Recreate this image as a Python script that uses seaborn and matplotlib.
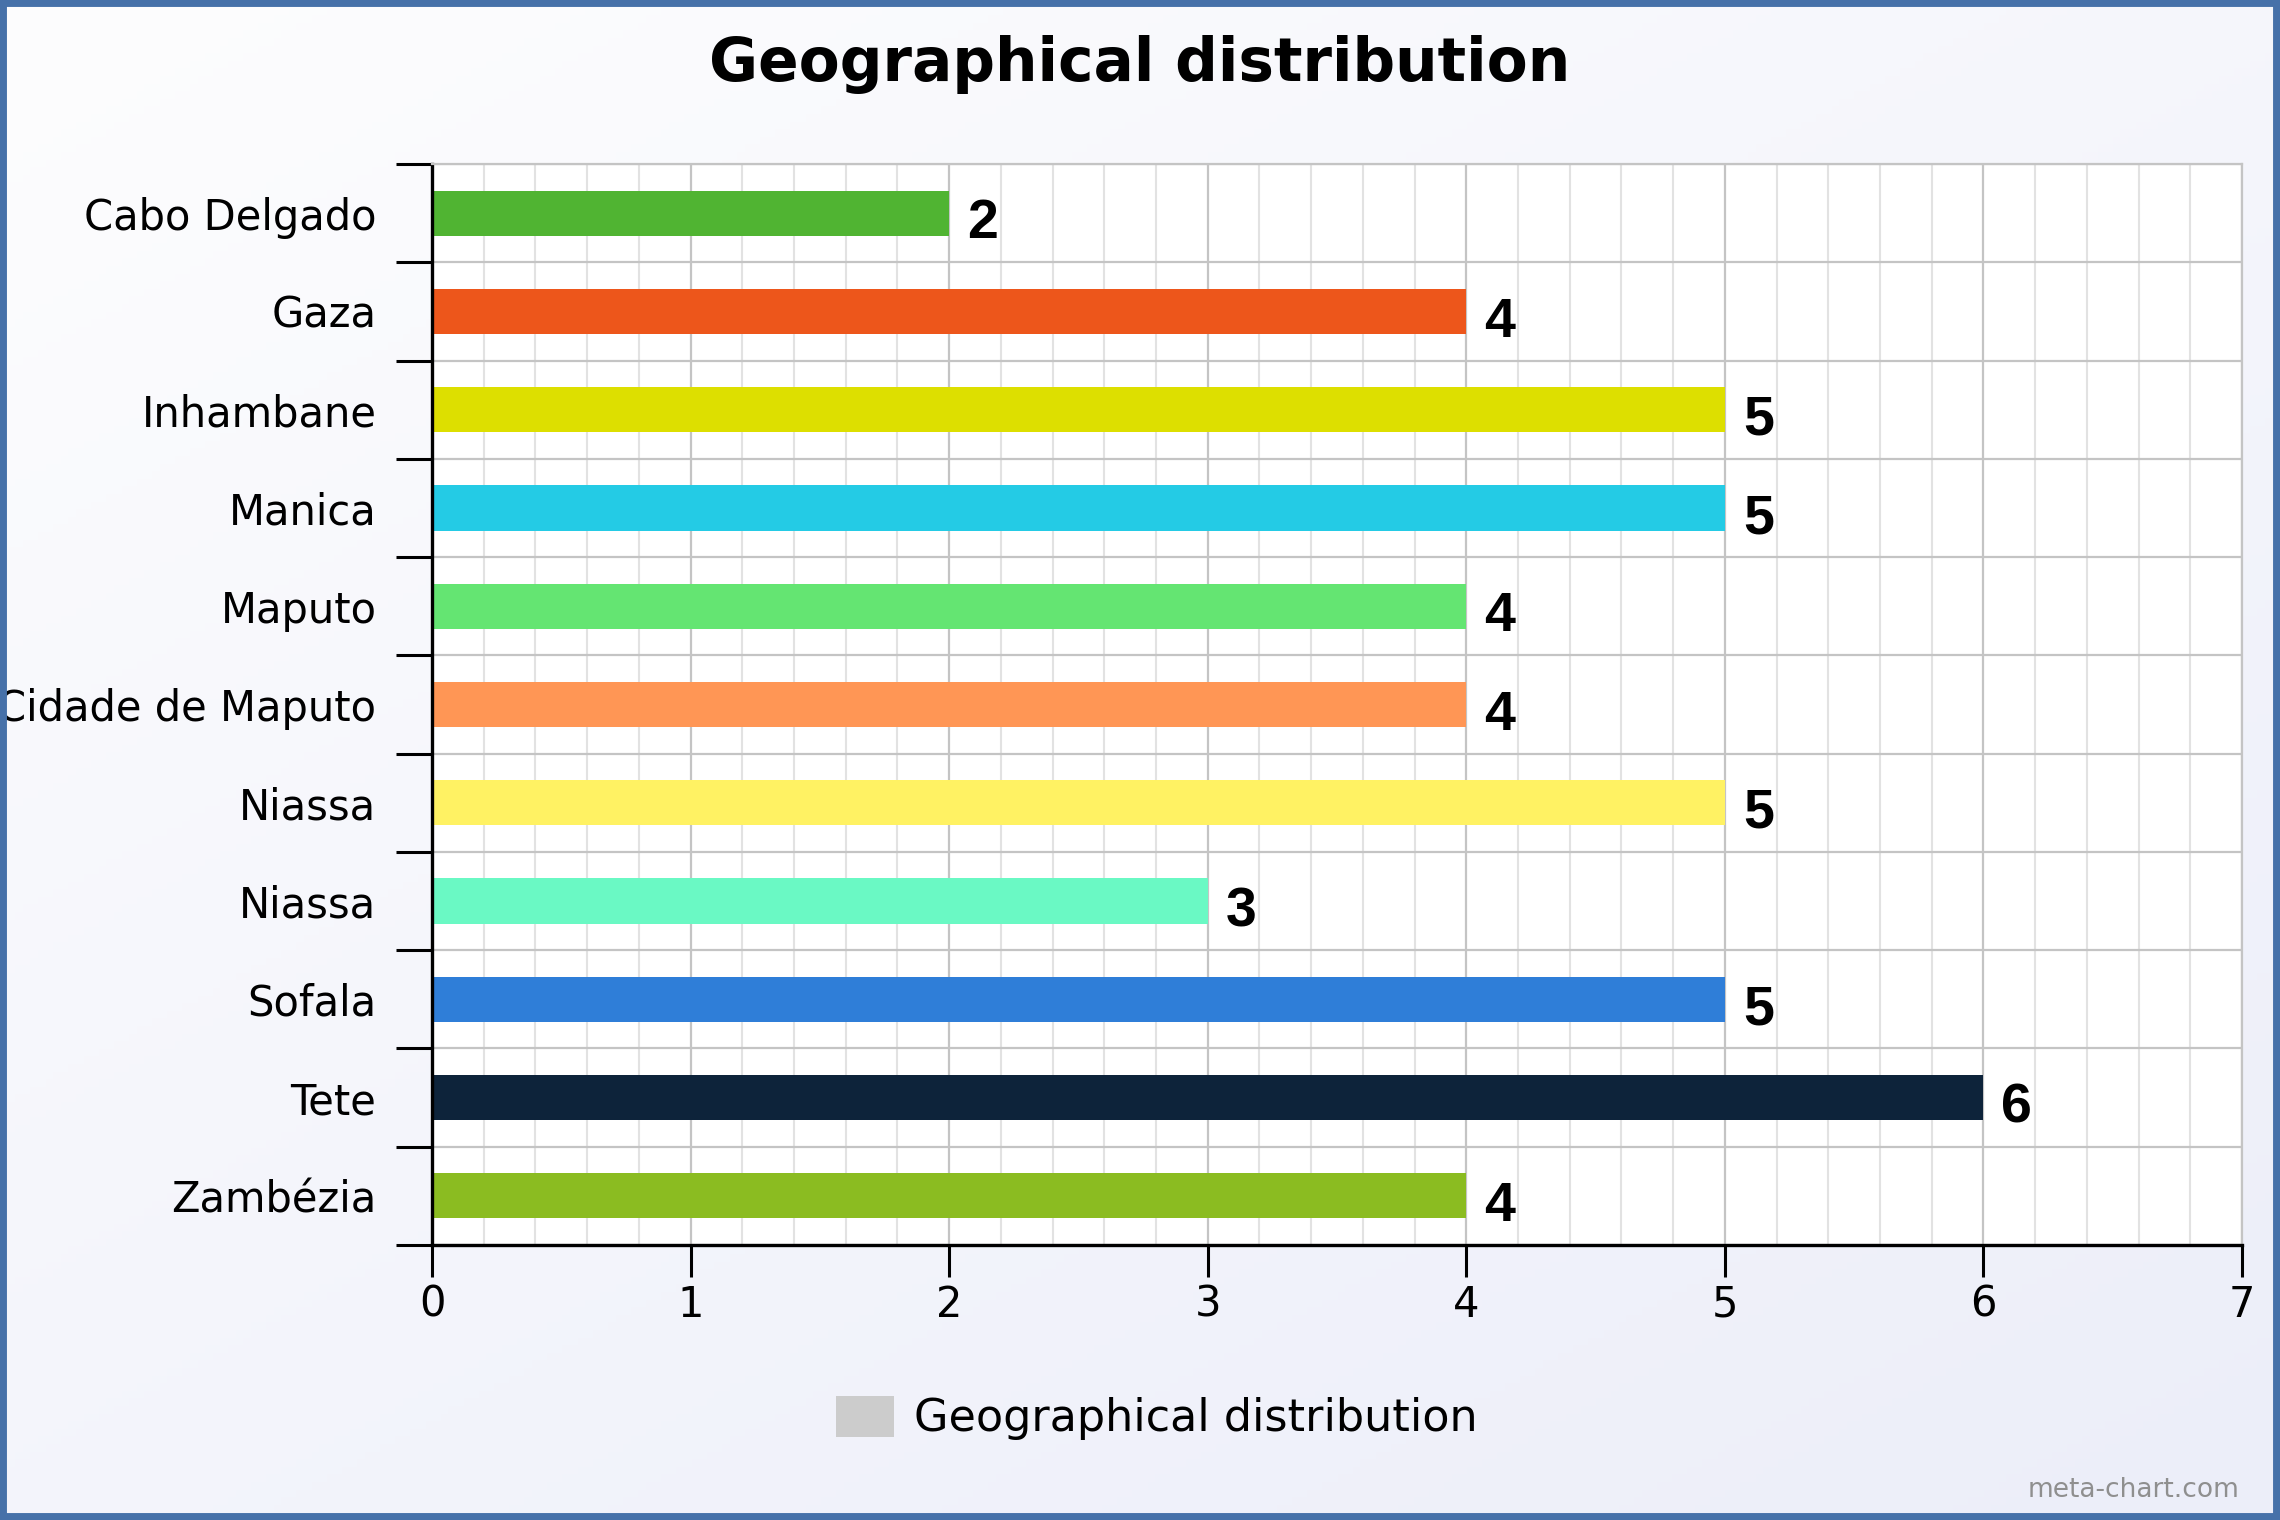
import numpy as np
import pandas as pd
import matplotlib
matplotlib.use("Agg")
import matplotlib.pyplot as plt
from matplotlib.patches import Patch, Rectangle
from matplotlib.ticker import MultipleLocator, FixedLocator
import seaborn as sns

# ---- data ----
regions = ["Cabo Delgado", "Gaza", "Inhambane", "Manica", "Maputo",
           "Cidade de Maputo", "Niassa", "Niassa", "Sofala", "Tete", "Zambézia"]
counts = [2, 4, 5, 5, 4, 4, 5, 3, 5, 6, 4]
bar_colors = ["#50B432", "#ED561B", "#DDDF00", "#24CBE5", "#64E572",
              "#FF9655", "#FFF263", "#6AF9C4", "#2F7ED8", "#0D233A", "#8BBC21"]
x_ticks = [0, 1, 2, 3, 4, 5, 6, 7]
title = "Geographical distribution"
legend_label = "Geographical distribution"

sns.set_style("white")
plt.rcParams["font.family"] = ["DejaVu Sans"]

slots = [f"r{i}" for i in range(len(regions))]
df = pd.DataFrame({"slot": slots, "value": counts, "region": regions})
palette = dict(zip(slots, bar_colors))

W, H = 2280, 1520
fig = plt.figure(figsize=(W / 100, H / 100), dpi=100)

# background gradient
bg = fig.add_axes([0, 0, 1, 1], zorder=-10)
yy, xx = np.mgrid[0:1:200j, 0:1:300j]
t = (0.45 * xx + 0.55 * yy)
c0 = np.array([0xfd, 0xfd, 0xfe]) / 255
c1 = np.array([0xec, 0xee, 0xf9]) / 255
img = c0[None, None, :] * (1 - t[..., None]) + c1[None, None, :] * t[..., None]
bg.imshow(img, aspect="auto", extent=[0, 1, 0, 1], origin="upper")
bg.set_axis_off()

left, right = 432 / W, 2242 / W
top, bottom = 1 - 164 / H, 1 - 1245 / H
ax = fig.add_axes([left, bottom, right - left, top - bottom])
ax.set_facecolor("white")

sns.barplot(data=df, x="value", y="slot", hue="slot", order=slots,
            hue_order=slots, palette=palette, orient="h", width=0.46,
            errorbar=None, legend=False, linewidth=0, saturation=1, ax=ax)

ax.set_xlim(0, 7)
ax.set_ylim(len(regions) - 0.5, -0.5)
ax.set_xlabel("")
ax.set_ylabel("")

# ticks
ax.xaxis.set_major_locator(FixedLocator(x_ticks))
ax.set_xticklabels([str(v) for v in x_ticks])
ax.xaxis.set_minor_locator(MultipleLocator(0.2))
ax.set_yticks(range(len(regions)))
ax.set_yticklabels(regions)
ax.yaxis.set_minor_locator(FixedLocator(np.arange(-0.5, len(regions), 1.0)))

ax.tick_params(axis="x", which="both", bottom=True, top=False)
ax.tick_params(axis="y", which="both", left=True, right=False)
ax.tick_params(axis="x", which="major", length=23, width=2.2, color="black",
               direction="out", pad=5, labelsize=30, labelcolor="black")
ax.tick_params(axis="x", which="minor", length=0)
ax.tick_params(axis="y", which="major", length=0, pad=40, labelsize=30,
               labelcolor="black")
ax.tick_params(axis="y", which="minor", length=26, width=2.2, color="black",
               direction="out")

# grid
ax.set_axisbelow(True)
ax.grid(axis="x", which="major", color="#c4c4c4", linewidth=1.6)
ax.grid(axis="x", which="minor", color="#e2e2e2", linewidth=1.5)
ax.grid(axis="y", which="minor", color="#c4c4c4", linewidth=1.6)
ax.grid(axis="y", which="major", visible=False)

for s in ["left", "bottom"]:
    ax.spines[s].set_color("black")
    ax.spines[s].set_linewidth(2.4)
for s in ["top", "right"]:
    ax.spines[s].set_color("#c4c4c4")
    ax.spines[s].set_linewidth(1.6)

# value labels
for cont in ax.containers:
    anns = ax.bar_label(cont, labels=[f"{v:g}" for v in cont.datavalues],
                        padding=11, fontsize=40, fontweight="bold",
                        family="Liberation Sans", color="black")
    for a in anns:
        a.xyann = (13, -8)

# title
fig.text(0.5, 1 - 64 / H, title, ha="center", va="center", fontsize=43,
         fontweight="bold", color="black")

# legend
fig.legend(handles=[Patch(facecolor="#cccccc", edgecolor="none")],
           labels=[legend_label], loc="center",
           bbox_to_anchor=(1157 / W, 1 - 1418 / H), frameon=False,
           fontsize=32, handlelength=1.3, handleheight=1.05,
           handletextpad=0.45, labelcolor="black")

# watermark
fig.text(2240 / W, 1 - 1490 / H, "meta-chart.com", ha="right", va="center",
         fontsize=19, color="#8f8f8f")

# border
fig.patches.append(Rectangle((0, 0), 1, 1, transform=fig.transFigure,
                             fill=False, edgecolor="#4671a9", linewidth=10,
                             zorder=100))

fig.savefig("out.png", dpi=100)
